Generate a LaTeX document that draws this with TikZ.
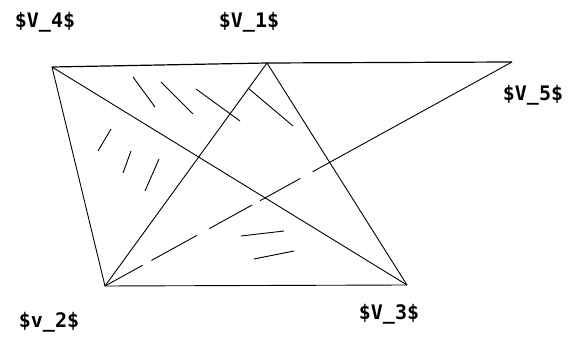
\documentclass[tikz,border=0pt]{standalone}
\usepackage{fontspec}
\usepackage{tikz}
\usetikzlibrary{positioning}
\newfontfamily\lblfont{DejaVu Sans Mono}

\begin{document}
\begin{tikzpicture}[x=1pt, y=-1pt, line width=0.9pt,
  vlabel/.style={inner sep=0pt, font=\lblfont\bfseries\fontsize{20}{21}\selectfont},
  hatch/.style={line width=0.9pt}]
  \useasboundingbox (0,0) rectangle (568,347);
  % vertices
  \coordinate (v4) at (52,67);
  \coordinate (v1) at (267,63);
  \coordinate (v5) at (512,62);
  \coordinate (v2) at (105,286);
  \coordinate (v3) at (407,285);
  % labels
  \node[vlabel] (l4) at (45,22) {\$V\_4\$};
  \node[vlabel] (l1) at (249,22) {\$V\_1\$};
  \node[vlabel] (l5) at (533,95) {\$V\_5\$};
  \node[vlabel] (l2) at (49,322) {\$v\_2\$};
  \node[vlabel] (l3) at (389,314) {\$V\_3\$};
  % edges
  \draw[line width=1.2pt] (v4) -- (v1) -- (v5);
  \draw (v4) -- (v2) -- (v3);
  \draw (v4) -- (v3);
  \draw (v1) -- (v2);
  \draw (v1) -- (v3);
  \draw[dash pattern={on 43pt off 10pt on 52pt off 14pt on 49pt off 9pt on 46pt off 14pt on 300pt}] (v2) -- (v5);
  % hatching
  \draw[hatch] (133,77) -- (155,107);
  \draw[hatch] (161,82) -- (193,114);
  \draw[hatch] (196,89) -- (240,121);
  \draw[hatch] (248,88) -- (293,126);
  \draw[hatch] (111,129) -- (98,151);
  \draw[hatch] (131,151) -- (123,173);
  \draw[hatch] (159,159) -- (145,191);
  \draw[hatch] (241,236) -- (284,231);
  \draw[hatch] (254,259) -- (294,251);
\end{tikzpicture}
\end{document}
